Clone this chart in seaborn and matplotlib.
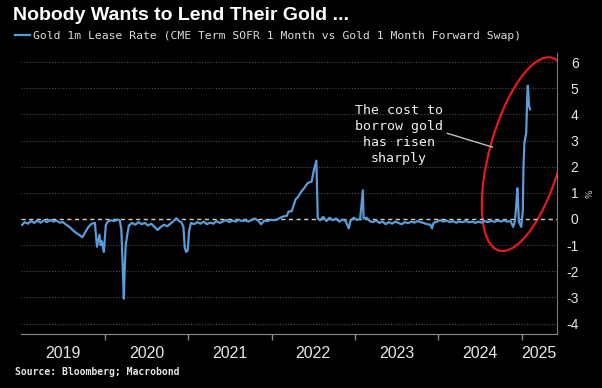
import pandas as pd
import matplotlib
matplotlib.use('Agg')
import matplotlib.pyplot as plt
import matplotlib.dates as mdates
import matplotlib.font_manager as fm
from matplotlib.patches import Ellipse
from matplotlib.transforms import IdentityTransform
import seaborn as sns

lease_dates = [
    '2019-01-02', '2019-01-14', '2019-01-28', '2019-02-11', '2019-02-25', '2019-03-11', '2019-03-25',
    '2019-04-08', '2019-04-22', '2019-05-06', '2019-05-20', '2019-06-03', '2019-06-17', '2019-07-01',
    '2019-07-15', '2019-07-29', '2019-08-12', '2019-08-26', '2019-09-09', '2019-09-24', '2019-10-07',
    '2019-10-21', '2019-11-04', '2019-11-18', '2019-11-27', '2019-12-08', '2019-12-13', '2019-12-18',
    '2019-12-27', '2020-01-05', '2020-01-14', '2020-01-28', '2020-02-11', '2020-02-25', '2020-03-06',
    '2020-03-13', '2020-03-18', '2020-03-24', '2020-03-27', '2020-04-01', '2020-04-08', '2020-04-15',
    '2020-04-29', '2020-05-13', '2020-05-27', '2020-06-10', '2020-06-24', '2020-07-08', '2020-07-22',
    '2020-08-05', '2020-08-19', '2020-09-02', '2020-09-16', '2020-09-30', '2020-10-14', '2020-10-28',
    '2020-11-09', '2020-11-20', '2020-12-01', '2020-12-10', '2020-12-16', '2020-12-22', '2020-12-29',
    '2021-01-04', '2021-01-12', '2021-01-26', '2021-02-09', '2021-02-23', '2021-03-09', '2021-03-23',
    '2021-04-06', '2021-04-20', '2021-05-04', '2021-05-18', '2021-06-01', '2021-06-15', '2021-06-29',
    '2021-07-13', '2021-07-27', '2021-08-10', '2021-08-24', '2021-09-07', '2021-09-21', '2021-10-05',
    '2021-10-19', '2021-11-02', '2021-11-16', '2021-11-30', '2021-12-14', '2021-12-28', '2022-01-11',
    '2022-01-25', '2022-02-08', '2022-02-22', '2022-03-08', '2022-03-16', '2022-03-30', '2022-04-16',
    '2022-04-27', '2022-05-11', '2022-05-25', '2022-06-07', '2022-06-25', '2022-07-06', '2022-07-16',
    '2022-07-22', '2022-08-01', '2022-08-15', '2022-08-29', '2022-09-12', '2022-09-26', '2022-10-10',
    '2022-10-24', '2022-11-07', '2022-11-21', '2022-12-05', '2022-12-12', '2022-12-27', '2023-01-10',
    '2023-01-24', '2023-02-05', '2023-02-08', '2023-02-21', '2023-03-07', '2023-03-21', '2023-04-04',
    '2023-04-18', '2023-05-02', '2023-05-16', '2023-05-30', '2023-06-13', '2023-06-27', '2023-07-11',
    '2023-07-25', '2023-08-08', '2023-08-22', '2023-09-05', '2023-09-19', '2023-10-03', '2023-10-17',
    '2023-10-31', '2023-11-14', '2023-11-28', '2023-12-05', '2023-12-12', '2023-12-27', '2024-01-10',
    '2024-01-24', '2024-02-07', '2024-02-21', '2024-03-06', '2024-03-20', '2024-04-03', '2024-04-17',
    '2024-05-01', '2024-05-15', '2024-05-29', '2024-06-12', '2024-06-26', '2024-07-10', '2024-07-24',
    '2024-08-07', '2024-08-21', '2024-09-04', '2024-09-18', '2024-10-02', '2024-10-16', '2024-10-30',
    '2024-11-13', '2024-11-25', '2024-12-03', '2024-12-09', '2024-12-13', '2024-12-16', '2024-12-20',
    '2024-12-30', '2025-01-06', '2025-01-09', '2025-01-13', '2025-01-17', '2025-01-21', '2025-01-25',
    '2025-01-28', '2025-01-31', '2025-02-03', '2025-02-07',
]
lease_values = [
    -0.23, -0.12, -0.18, -0.08, -0.15, -0.06, -0.14,
    -0.05, -0.12, -0.04, -0.10, -0.06, -0.14, -0.12,
    -0.22, -0.30, -0.42, -0.52, -0.60, -0.70, -0.50,
    -0.30, -0.18, -0.15, -1.06, -0.60, -1.00, -0.85,
    -1.26, -0.23, -0.10, -0.05, -0.08, -0.02, -0.06,
    -0.40, -1.60, -3.05, -2.10, -1.00, -0.60, -0.25,
    -0.15, -0.22, -0.12, -0.20, -0.15, -0.25, -0.18,
    -0.30, -0.42, -0.30, -0.22, -0.28, -0.18, -0.08,
    0.03, -0.08, -0.12, -0.30, -1.10, -1.26, -1.20,
    -0.45, -0.15, -0.20, -0.12, -0.18, -0.10, -0.20,
    -0.14, -0.18, -0.08, -0.15, -0.10, -0.04, -0.12,
    -0.06, -0.10, -0.03, -0.08, -0.05, -0.10, -0.04,
    0.02, -0.06, -0.20, -0.06, -0.08, -0.03, -0.05,
    -0.02, 0.05, 0.10, 0.12, 0.28, 0.30, 0.75,
    0.85, 1.05, 1.20, 1.37, 1.43, 1.90, 2.23,
    0.02, -0.05, 0.08, -0.08, 0.05, -0.05, 0.02,
    -0.10, -0.02, -0.08, -0.36, -0.08, 0.05, -0.04,
    0.02, 1.10, 0.02, 0.05, -0.08, -0.12, -0.05,
    -0.15, -0.10, -0.20, -0.12, -0.18, -0.10, -0.15,
    -0.20, -0.12, -0.16, -0.10, -0.14, -0.08, -0.12,
    -0.16, -0.20, -0.22, -0.36, -0.15, -0.10, -0.05,
    -0.10, -0.06, -0.12, -0.08, -0.14, -0.10, -0.12,
    -0.08, -0.13, -0.10, -0.15, -0.10, -0.14, -0.08,
    -0.12, -0.07, -0.11, -0.06, -0.10, -0.05, -0.10,
    -0.08, -0.30, -0.05, 0.60, 1.18, 0.70, -0.10,
    -0.30, 0.30, 2.00, 2.90, 3.10, 3.30, 4.50,
    5.10, 4.70, 4.30, 4.20,
]
year_labels = ['2019', '2020', '2021', '2022', '2023', '2024', '2025']
ytick_values = [-4, -3, -2, -1, 0, 1, 2, 3, 4, 5, 6]
ytick_labels = ['-4', '-3', '-2', '-1', '0', '1', '2', '3', '4', '5', '6']
legend_label = 'Gold 1m Lease Rate (CME Term SOFR 1 Month vs Gold 1 Month Forward Swap)'

df = pd.DataFrame({'Date': pd.to_datetime(lease_dates), 'Rate': lease_values})

names = {f.name for f in fm.fontManager.ttflist}
narrow = 'Liberation Sans Narrow' if 'Liberation Sans Narrow' in names else 'Liberation Sans'
mono = 'DejaVu Sans Mono'
fg = '#e6e6e6'

fig = plt.figure(figsize=(6.02, 3.88), dpi=100, facecolor='black')
ax = fig.add_axes([21 / 602, 54 / 388, 536 / 602, 281 / 388])
ax.set_facecolor('black')

sns.lineplot(data=df, x='Date', y='Rate', color='#5b9bd8', linewidth=1.6, ax=ax,
             label=legend_label, zorder=3)

x0 = pd.Timestamp('2018-12-29')
x1 = pd.Timestamp('2025-06-05')
ax.set_xlim(x0, x1)
ax.set_ylim(-4.4, 6.35)

for v in ytick_values:
    if v != 0:
        ax.axhline(v, color='#4a4a4a', ls=(0, (1, 1.5)), lw=0.8, zorder=0)
ax.axhline(0, color='#d8cfbf', ls=(0, (3, 2.5)), lw=1, zorder=2)

ax.yaxis.tick_right()
ax.set_yticks(ytick_values)
ax.set_yticklabels(ytick_labels, ha='right', family='Liberation Sans')
ax.tick_params(axis='y', length=0, pad=15.5, labelcolor=fg, labelsize=10)
ax.yaxis.set_label_position('right')
ax.set_ylabel('%', rotation=90, fontsize=6.5, color='#cccccc', labelpad=5)

year_starts = pd.to_datetime([f'{y}-01-01' for y in range(2020, 2026)])
bounds = [x0] + list(year_starts) + [x1]
mids = [a + (b - a) / 2 for a, b in zip(bounds[:-1], bounds[1:])]
ax.set_xticks(mids)
ax.set_xticklabels(year_labels, family=narrow)
ax.set_xticks(year_starts, minor=True)
ax.tick_params(axis='x', which='major', length=0, pad=9, labelsize=11.5, labelcolor=fg)
ax.tick_params(axis='x', which='minor', length=4, color='#8c8c8c', width=1)
ax.set_xlabel('')

for side in ['top', 'left']:
    ax.spines[side].set_visible(False)
ax.spines['bottom'].set_color('#8c8c8c')
ax.spines['right'].set_color('#7a7a7a')

leg = ax.legend(loc='center left', bbox_to_anchor=(15 / 602, 1 - 36 / 388),
                bbox_transform=fig.transFigure, frameon=False, handlelength=1.35,
                handletextpad=0.25, borderpad=0, borderaxespad=0,
                prop={'family': mono, 'size': 8.2})
for t in leg.get_texts():
    t.set_color('#dcdcdc')

fig.text(13 / 602, 1 - 15 / 388, 'Nobody Wants to Lend Their Gold ...', fontsize=14,
         fontweight='bold', color='white', family='Liberation Sans', va='center', ha='left')
fig.text(15 / 602, 1 - 372 / 388, 'Source: Bloomberg; Macrobond', fontsize=7,
         fontweight='bold', color=fg, family=mono, va='center', ha='left')

ax.text(mdates.date2num(pd.Timestamp('2023-07-12')), 3.22,
        'The cost to\nborrow gold\nhas risen\nsharply', ha='center', va='center',
        multialignment='center', family=mono, fontsize=9.5, color='#f0f0f0', linespacing=1.3)
ax.annotate('', xy=(mdates.date2num(pd.Timestamp('2024-08-26')), 2.75),
            xytext=(mdates.date2num(pd.Timestamp('2024-02-09')), 3.28),
            arrowprops=dict(arrowstyle='-', color='#bfbfbf', lw=1, shrinkA=0, shrinkB=0))

cx, cy = ax.transData.transform((mdates.date2num(pd.Timestamp('2025-01-18')), 2.48))
ell = Ellipse((cx, cy), 200, 72, angle=74.6, transform=IdentityTransform(),
              fill=False, edgecolor='#e31b1b', lw=1.6)
ax.add_artist(ell)
ell.set_clip_path(ax.patch)

fig.savefig('out.png', dpi=100, facecolor='black')
